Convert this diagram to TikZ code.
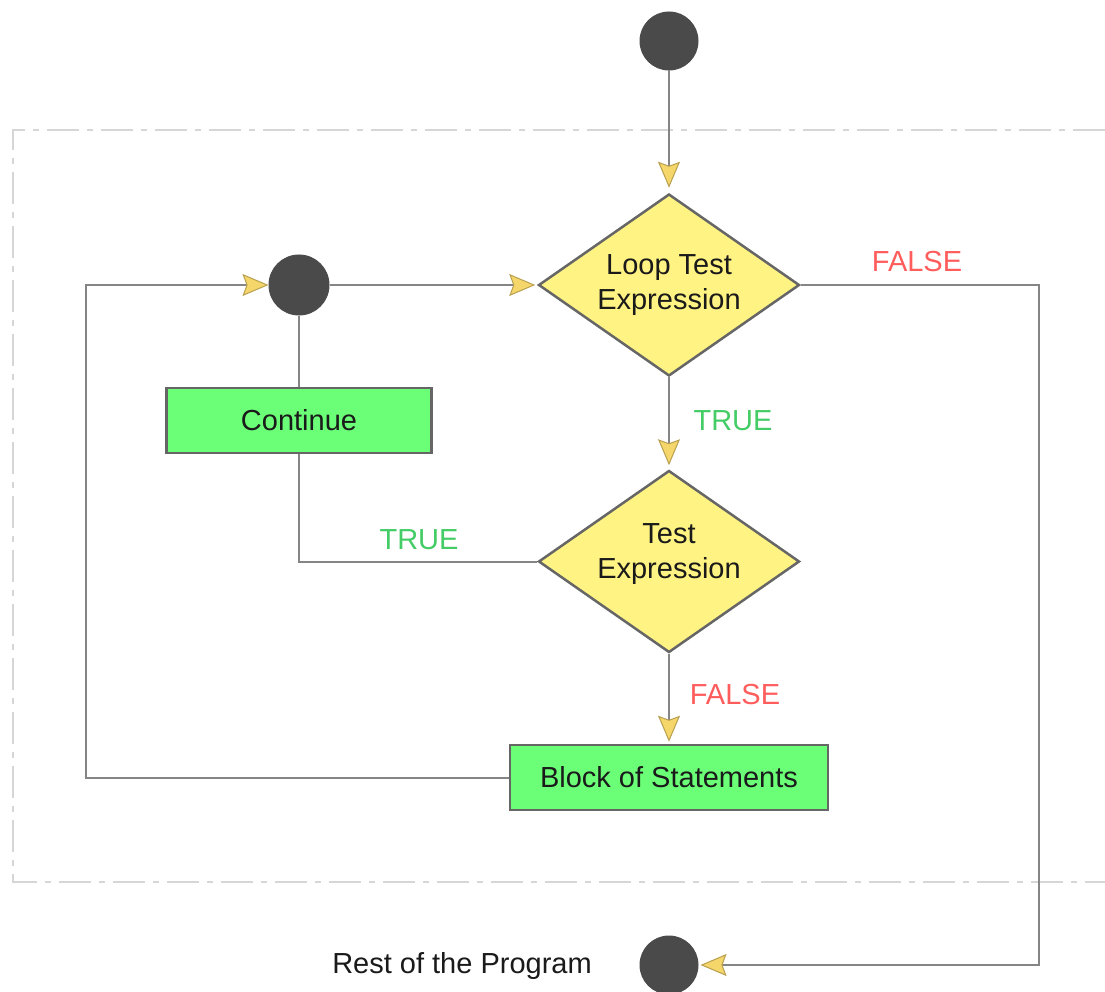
\documentclass[tikz,border=0pt]{standalone}
\usepackage{fontspec}
\setmainfont{Liberation Sans}
\usetikzlibrary{shapes.geometric,arrows.meta}

\definecolor{linegray}{HTML}{858585}
\definecolor{edgegray}{HTML}{666666}
\definecolor{dotgray}{HTML}{4A4A4A}
\definecolor{framegray}{HTML}{D6D6D6}
\definecolor{decisionfill}{HTML}{FFF383}
\definecolor{stmtfill}{HTML}{6BFF78}
\definecolor{arrowyellow}{HTML}{F5D66A}
\definecolor{arrowedge}{HTML}{B8A050}
\definecolor{falsered}{HTML}{FF5C5C}
\definecolor{truegreen}{HTML}{44CC66}
\definecolor{textdark}{HTML}{1A1A1A}

\tikzset{
  every node/.style={font=\fontsize{29}{35}\selectfont, text=textdark},
  flow/.style={draw=linegray, line width=2pt},
  flowtip/.style={-{Stealth[length=26pt,width=22pt,inset=4pt,line width=1pt,color=arrowedge,fill=arrowyellow]}},
  dot/.style={circle, fill=dotgray, draw=dotgray, line width=1pt, minimum size=58pt, inner sep=0pt},
  decision/.style={diamond, aspect=1.43, fill=decisionfill, draw=edgegray, line width=2.5pt,
    minimum width=261pt, minimum height=182pt, inner sep=0pt, align=center},
  stmt/.style={rectangle, fill=stmtfill, draw=edgegray, line width=2.5pt, minimum height=65pt, inner sep=0pt},
  falselbl/.style={text=falsered},
  truelbl/.style={text=truegreen},
  frame/.style={draw=framegray, line width=2.5pt, dash pattern=on 32pt off 8pt on 6pt off 8pt},
}

\begin{document}
\begin{tikzpicture}[x=1pt, y=-1pt]
\useasboundingbox (0,0) rectangle (1105,992);

% dash-dot frame around the loop body
\draw[frame] (1105,130) -- (13,130) -- (13,882) -- (1105,882);

% nodes
\node[dot] (start) at (669,41) {};
\node[decision] (loop) at (669,285) {Loop Test\\Expression};
\node[dot, minimum size=60pt] (join) at (299,285) {};
\node[stmt, minimum width=265pt] (cont) at (299,420.5) {Continue};
\node[decision] (test) at (669,561.5) {};
\node[align=center] (testtext) at (669,554) {Test\\Expression};
\node[stmt, minimum width=318pt] (block) at (669,777.5) {Block of Statements};
\node[dot] (end) at (669,965) {};
\node (rest) at (462,966) {Rest of the Program};

% corner points of the outer connectors
\coordinate (backleft) at (86,777.5);
\coordinate (falseturn) at (1039,285);

% connectors
\draw[flow, flowtip, shorten >=5pt] (start) -- (loop);
\draw[flow, flowtip, shorten >=2pt] (join) -- (loop);
\draw[flow] (join) -- (cont);
\draw[flow, flowtip, shorten >=4pt] (loop) -- (test);
\draw[flow] (test.west) -| (cont.south);
\draw[flow, flowtip, shorten >=2pt] (test) -- (block);
\draw[flow, flowtip] (block.west) -- (backleft) |- (join.west);
\draw[flow, flowtip, shorten >=2pt] (loop.east) -- (falseturn) |- (end.east);

% branch labels
\node[falselbl] (lblloopfalse) at (917,262) {FALSE};
\node[truelbl] (lbllooptrue) at (733,421) {TRUE};
\node[truelbl] (lbltesttrue) at (419,540) {TRUE};
\node[falselbl] (lbltestfalse) at (735,695) {FALSE};

\end{tikzpicture}
\end{document}
